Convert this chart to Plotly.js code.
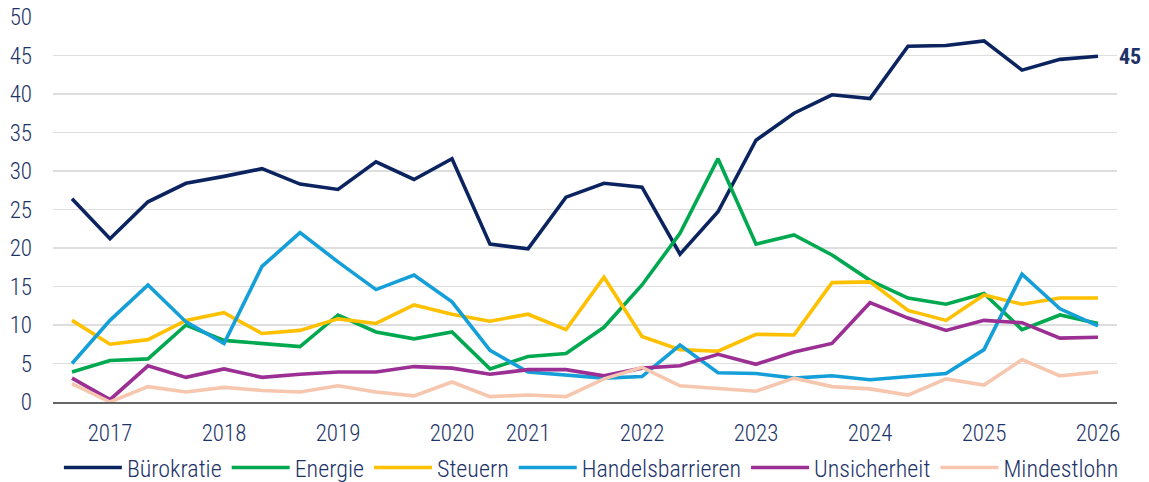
<!DOCTYPE html>
<html><head><meta charset="utf-8">
<script src="https://cdn.plot.ly/plotly-3.0.1.min.js"></script>
<style>html,body{margin:0;padding:0;background:#fff}#chart{width:1149px;height:482px}</style>
</head><body><div id="chart"></div>
<script>
const surveyIndex = Array.from({length: 28}, (_, i) => i);
const yearTickPositions = [1, 4, 7, 10, 12, 15, 18, 21, 24, 27];
const yearTickLabels = ["2017","2018","2019","2020","2021","2022","2023","2024","2025","2026"];

const buerokratie = [26.4,21.2,26.0,28.4,29.3,30.3,28.3,27.6,31.2,28.9,31.6,20.5,19.9,26.6,28.4,27.9,19.2,24.7,34.0,37.5,39.9,39.4,46.2,46.3,46.9,43.1,44.5,44.9];
const energie = [3.9,5.4,5.6,10.0,8.0,7.6,7.2,11.3,9.1,8.2,9.1,4.3,5.9,6.3,9.7,15.2,21.9,31.6,20.5,21.7,19.1,15.8,13.5,12.7,14.1,9.4,11.3,10.2];
const steuern = [10.6,7.5,8.1,10.6,11.6,8.9,9.3,10.8,10.2,12.6,11.4,10.5,11.4,9.4,16.2,8.5,6.8,6.6,8.8,8.7,15.5,15.6,11.9,10.6,13.9,12.7,13.5,13.5];
const handelsbarrieren = [5.0,10.6,15.2,10.4,7.6,17.6,22.0,18.2,14.6,16.5,13.0,6.7,3.9,3.5,3.1,3.3,7.4,3.8,3.7,3.1,3.4,2.9,3.3,3.7,6.8,16.6,12.1,9.9];
const unsicherheit = [3.1,0.3,4.7,3.2,4.3,3.2,3.6,3.9,3.9,4.6,4.4,3.6,4.2,4.2,3.4,4.4,4.7,6.2,4.9,6.5,7.6,12.9,10.9,9.3,10.6,10.3,8.3,8.4];
const mindestlohn = [2.4,0.0,2.0,1.3,1.9,1.5,1.3,2.1,1.3,0.8,2.6,0.7,0.9,0.7,3.0,4.5,2.1,1.7,1.4,3.1,2.0,1.7,0.9,3.0,2.2,5.5,3.4,3.9];

const seriesNames = ["Bürokratie","Energie","Steuern","Handelsbarrieren","Unsicherheit","Mindestlohn"];
const seriesValues = [buerokratie, energie, steuern, handelsbarrieren, unsicherheit, mindestlohn];
const seriesColors = ["#0b2460","#00a94f","#ffc000","#159fd8","#9b2f93","#f6c7ae"];

const textColor = "#1d3368";
const fontFam = "'Roboto Condensed','Open Sans',sans-serif";

const traces = seriesNames.map((n, i) => ({
  x: surveyIndex, y: seriesValues[i], name: n, type: "scatter", mode: "lines",
  line: {color: seriesColors[i], width: 3.6}
}));

const last = surveyIndex.length - 1;
const layout = {
  width: 1149, height: 482,
  margin: {l: 53, r: 32, t: 17, b: 80, autoexpand: false},
  paper_bgcolor: "#fff", plot_bgcolor: "#fff",
  font: {family: fontFam, color: textColor, size: 23, weight: 300},
  showlegend: true,
  legend: {orientation: "h", x: 0.506, xanchor: "center", y: -0.171, yanchor: "middle",
    font: {size: 24, color: textColor, weight: 300}, itemwidth: 58, tracegroupgap: 0},
  xaxis: {range: [-0.5, 27.5], tickmode: "array", tickvals: yearTickPositions, ticktext: yearTickLabels,
    showgrid: false, zeroline: false, showline: true, linecolor: "#666", linewidth: 1.5,
    ticks: "", ticklabelstandoff: 10, tickfont: {size: 23, color: textColor, weight: 300}, fixedrange: true},
  yaxis: {range: [0, 50], dtick: 5, showgrid: true, gridcolor: "#dedede", gridwidth: 1.5,
    zeroline: false, ticks: "", ticklabelstandoff: 20, tickfont: {size: 23, color: textColor, weight: 300}, fixedrange: true},
  annotations: [{x: surveyIndex[last], y: buerokratie[last], xref: "x", yref: "y",
    text: "<b>" + Math.round(buerokratie[last]) + "</b>", showarrow: false, xanchor: "left", xshift: 19,
    font: {size: 22, color: textColor, family: fontFam}}]
};
Plotly.newPlot("chart", traces, layout, {displayModeBar: false, staticPlot: true});
</script></body></html>
